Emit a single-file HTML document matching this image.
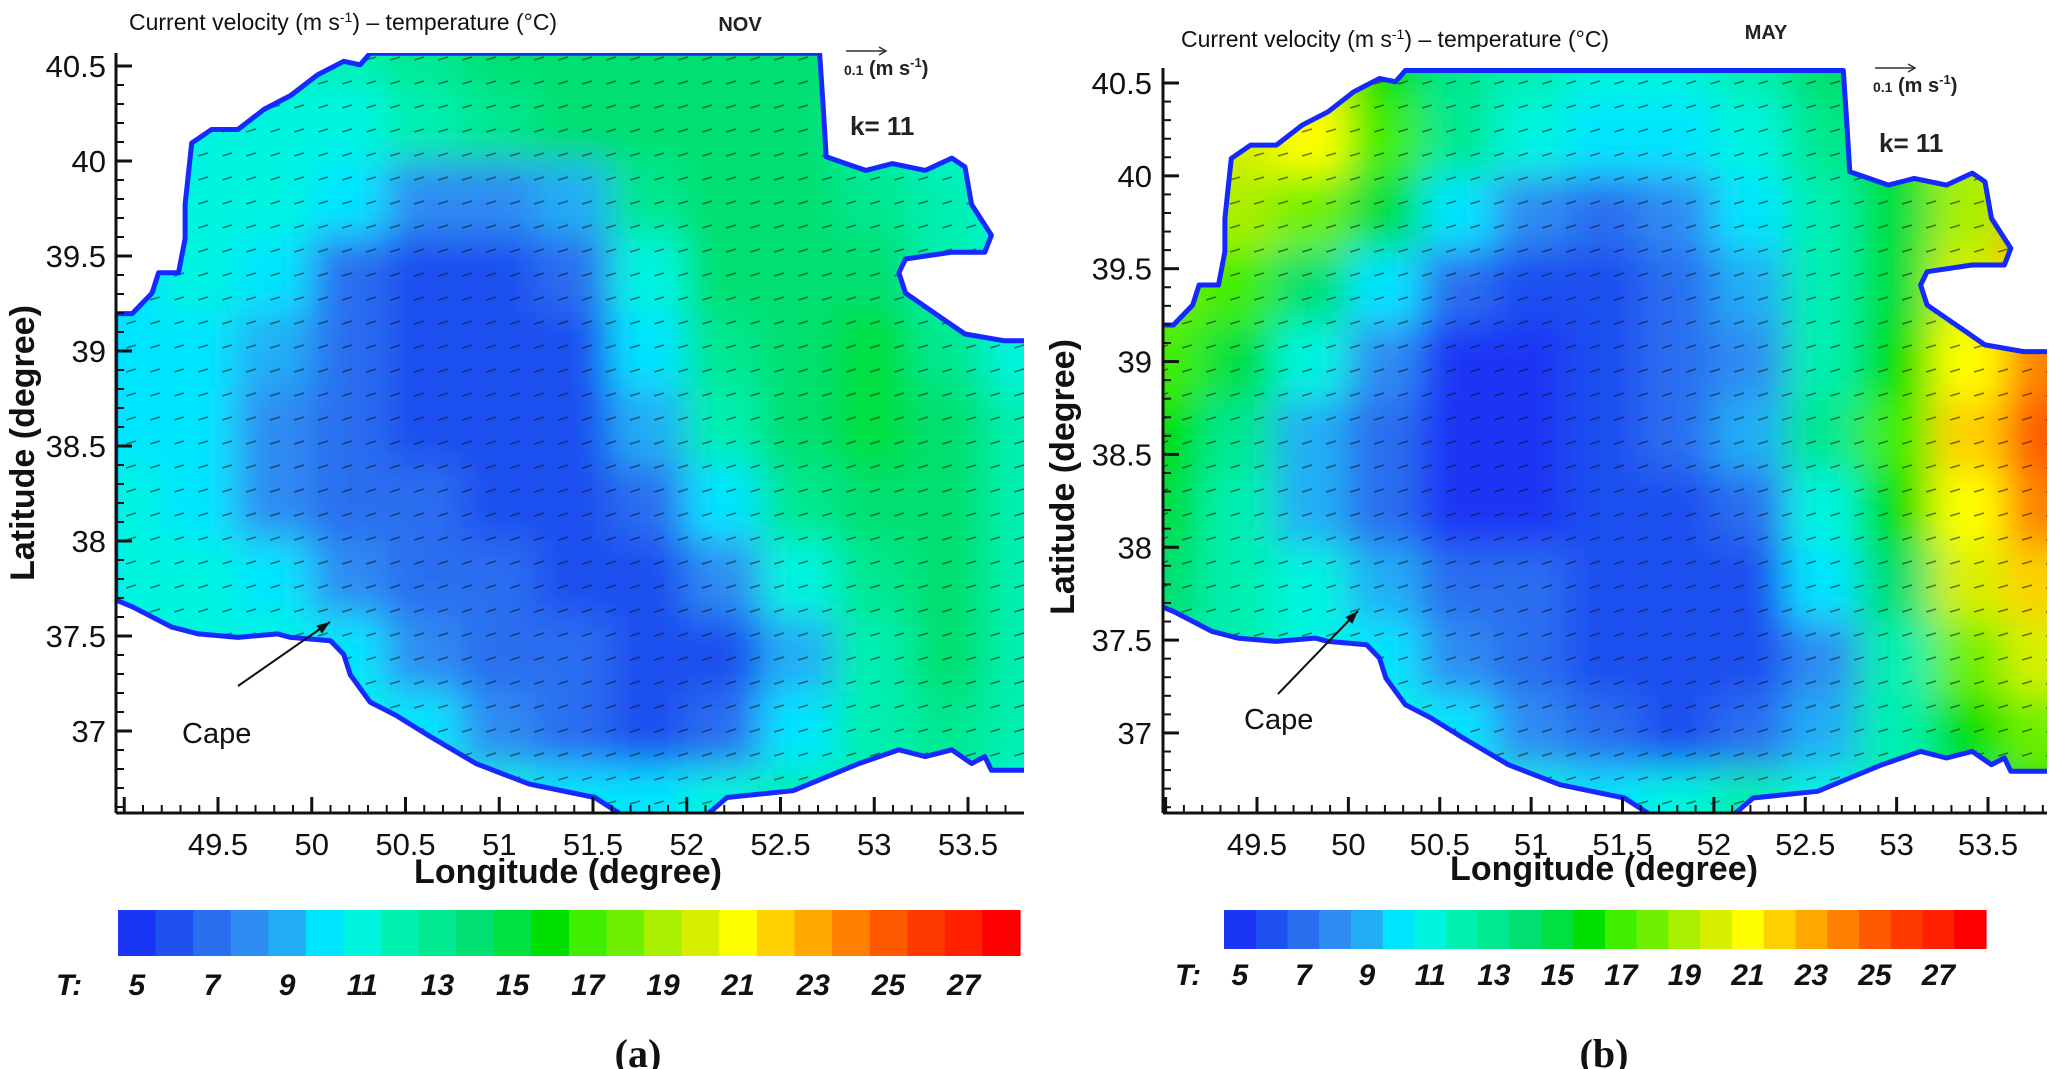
<!DOCTYPE html>
<html><head><meta charset="utf-8">
<style>
html,body{margin:0;padding:0;background:#fff;}
svg{display:block;}
text{font-family:"Liberation Sans",sans-serif;}
</style></head>
<body>
<svg id="fig" width="2072" height="1069" viewBox="0 0 2072 1069" xmlns="http://www.w3.org/2000/svg">
<defs>
<filter id="blurA" x="-10%" y="-10%" width="120%" height="120%"><feGaussianBlur stdDeviation="19"/></filter>
<pattern id="vec" width="24" height="24" patternUnits="userSpaceOnUse">
<line x1="6" y1="12" x2="16" y2="9" stroke="#111" stroke-width="1.6" opacity="0.55"/>
</pattern>
</defs>
<g id="root"></g>
</svg>
<script>
// ---- data ----
const lonCenters = [49.0,49.4,49.8,50.2,50.6,51.0,51.4,51.8,52.2,52.6,53.0,53.4,53.8];
const latCenters = [40.6,40.2,39.8,39.4,39.0,38.6,38.2,37.8,37.4,37.0,36.6];
const tempNov = [
[12,12,12,12,13,14,14,14,14,14,13,12,12],
[11,11,11,11,12,13,14,14,14,14,12,11,11],
[11,11,11,10,8,8,9,13,14,14,13,12,11],
[10,11,10,7,6,6,7,11,14,14,14,12,11],
[10,10,9,7,6,6,6,10,13,14,15,13,11],
[10,10,8,7,6,6,6,9,12,14,15,14,12],
[11,10,8,7,7,6,6,7,10,13,14,14,12],
[11,11,10,8,7,7,6,6,8,11,13,14,12],
[11,11,11,10,8,7,7,6,6,9,12,14,12],
[11,11,11,11,10,8,7,6,7,10,12,13,12],
[12,12,12,12,11,11,10,10,11,12,12,12,11]];
const tempMay = [
[20,20,20,16,13,12,11,11,12,14,16,18,18],
[20,20,21,17,13,11,10,10,11,13,16,19,22],
[19,19,18,15,10,8,7,8,10,12,15,19,23],
[18,17,14,10,7,6,6,7,9,12,15,20,23],
[17,15,11,8,5,5,6,7,8,12,16,21,24],
[16,13,9,7,5,5,6,7,9,13,17,22,25],
[15,12,9,7,5,5,6,6,7,11,16,21,24],
[14,12,11,9,7,7,6,6,6,10,14,20,22],
[13,12,11,10,8,7,6,6,6,8,12,18,20],
[12,12,11,11,10,8,7,6,7,9,12,16,18],
[12,12,11,11,11,11,10,11,12,11,12,14,16]];
const lonTicks = [49.5,50,50.5,51,51.5,52,52.5,53,53.5];
const latTicks = [40.5,40,39.5,39,38.5,38,37.5,37];
const cbLabels = [5,7,9,11,13,15,17,19,21,23,25,27];
const cbColors = ["#1a35f5","#1f50f0","#2a6ef0","#2f8cf2","#22aef5","#00e5ff","#00f5e0","#00f0b0","#00e890","#00e070","#00e040","#00e000","#40ee00","#70f000","#a8f000","#d8f000","#ffff00","#ffd000","#ffa800","#ff8000","#ff5a00","#ff3a00","#ff2000","#ff0000"];
// coastline traced in reference-pixel space of panel (a), converted to lon/lat
const coastPx = [[175,460],[200,460],[230,430],[240,400],[270,400],[280,350],[280,300],[290,210],[320,190],[360,190],[400,160],[440,140],[480,110],[520,90],[545,95],[560,78],[1240,78],[1245,150],[1250,230],[1280,240],[1310,250],[1350,240],[1400,250],[1440,232],[1460,245],[1470,300],[1500,345],[1490,370],[1440,370],[1370,380],[1360,400],[1370,430],[1430,470],[1460,490],[1520,500],[1560,500],[1560,1130],[1500,1130],[1490,1110],[1470,1120],[1440,1100],[1400,1110],[1360,1100],[1300,1120],[1250,1140],[1200,1160],[1100,1170],[1070,1195],[940,1195],[900,1170],[800,1150],[720,1120],[650,1080],[600,1050],[560,1030],[530,990],[520,960],[500,940],[440,935],[420,930],[360,935],[300,930],[260,920],[200,890],[175,880]];
const coast = coastPx.map(p=>[49.5+(p[0]/1.513-218)/187.5, 40.5-(p[1]/1.467-66)/190]);

const NS="http://www.w3.org/2000/svg";
const root=document.getElementById('root');
function el(tag,attrs,parent){const e=document.createElementNS(NS,tag);for(const k in attrs)e.setAttribute(k,attrs[k]);(parent||root).appendChild(e);return e;}
function colorFor(t){let i=Math.round(t)-5;i=Math.max(0,Math.min(cbColors.length-1,i));return cbColors[i];}

const panels=[
 {id:'a',temps:tempNov,left:116,right:1024,top:53,bottom:813,lon0:49.5,x0:218,kx:187.5,lat0:40.5,y0:66,ky:190,
  title:[129,22],month:'NOV',monthX:740,monthY:24,vecX:846,vecY:51,kY:125,cb:[118,1020,910,956],cbLab:985,tX:56,
  cape:[182,733],capeArrow:[238,686,330,622],lbl:[638,1053],lonTitle:[568,883],latTitle:[22,443],ylabR:106},
 {id:'b',temps:tempMay,left:1163,right:2047,top:68,bottom:813,lon0:49.5,x0:1257,kx:182.75,lat0:40.5,y0:83,ky:185.7,
  title:[1181,39],month:'MAY',monthX:1766,monthY:32,vecX:1875,vecY:68,kY:142,cb:[1224,1986,910,949],cbLab:975,tX:1175,
  cape:[1244,719],capeArrow:[1278,694,1358,611],lbl:[1604,1053],lonTitle:[1604,880],latTitle:[1062,477],ylabR:1152}
];

panels.forEach(P=>{
 const X=lon=>P.x0+(lon-P.lon0)*P.kx;
 const Y=lat=>P.y0+(P.lat0-lat)*P.ky;
 const g=el('g',{});
 
 
 const cp=el('clipPath',{id:'clip'+P.id},g);
 const polyPts=coast.map(c=>X(c[0]).toFixed(1)+','+Math.max(P.top,Y(c[1])).toFixed(1)).join(' ');
 el('polygon',{points:polyPts},cp);
 const cp2=el('clipPath',{id:'box'+P.id},g);
 el('rect',{x:P.left,y:P.top,width:P.right-P.left,height:P.bottom-P.top},cp2);
 const outer=el('g',{'clip-path':'url(#box'+P.id+')'},g);
 const sea=el('g',{'clip-path':'url(#clip'+P.id+')'},outer);
 
 
 el('rect',{x:P.left,y:P.top,width:P.right-P.left,height:P.bottom-P.top,fill:colorFor(11)},sea);
 const field=el('g',{filter:'url(#blurA)'},sea);
 P.temps.forEach((row,ri)=>row.forEach((t,ci)=>{
   const lon=lonCenters[ci],lat=latCenters[ri];
   const x1=X(lon-0.2),x2=X(lon+0.2),y1=Y(lat+0.2),y2=Y(lat-0.2);
   const r=el('rect',{x:x1-1,y:y1-1,width:x2-x1+2,height:y2-y1+2,fill:colorFor(t)},field);
   
   
 }));
 el('rect',{x:P.left,y:P.top,width:P.right-P.left,height:P.bottom-P.top,fill:'url(#vec)'},sea);
 const cl=el('polygon',{points:polyPts,fill:'none',stroke:'#1428ff','stroke-width':5,'stroke-linejoin':'round'},outer);
 
 
 const ax=el('g',{stroke:'#111','stroke-width':3},g);
 
 
 el('line',{x1:P.left,y1:P.top,x2:P.left,y2:P.bottom},ax);
 el('line',{x1:P.left,y1:P.bottom,x2:P.right,y2:P.bottom},ax);
 for(let v=49.0;v<=53.85;v+=0.1){const x=X(v);if(x<P.left+2||x>P.right)continue;
   const major=Math.abs(v*2-Math.round(v*2))<0.01;
   el('line',{x1:x,y1:P.bottom,x2:x,y2:P.bottom-(major?16:8),'stroke-width':major?3:2},ax);}
 for(let v=36.6;v<=40.65;v+=0.1){const y=Y(v);if(y<P.top||y>P.bottom-2)continue;
   const major=Math.abs(v*2-Math.round(v*2))<0.01;
   el('line',{x1:P.left,y1:y,x2:P.left+(major?16:8),y2:y,'stroke-width':major?3:2},ax);}
 lonTicks.forEach(v=>{const t=el('text',{x:X(v),y:P.bottom+42,'font-size':31,'text-anchor':'middle',fill:'#111'},g);t.textContent=v;
   });
 latTicks.forEach(v=>{const t=el('text',{x:P.ylabR,y:Y(v)+11,'font-size':31,'text-anchor':'end',fill:'#111'},g);t.textContent=v;
   });
 let t=el('text',{x:P.lonTitle[0],y:P.lonTitle[1],'font-size':34,'font-weight':'bold','text-anchor':'middle',fill:'#111'},g);
 t.textContent='Longitude (degree)';
 t=el('text',{x:0,y:0,'font-size':34,'font-weight':'bold','text-anchor':'middle',fill:'#111',transform:`translate(${P.latTitle[0]+12},${P.latTitle[1]}) rotate(-90)`},g);
 t.textContent='Latitude (degree)';
 t=el('text',{x:P.title[0],y:P.title[1]+8,'font-size':23,fill:'#111'},g);
 t.innerHTML='Current velocity (m s<tspan dy="-8" font-size="14">-1</tspan><tspan dy="8">) – temperature (°C)</tspan>';
 
 t=el('text',{x:P.monthX,y:P.monthY+7,'font-size':20,'font-weight':'bold','text-anchor':'middle',fill:'#222'},g);
 t.textContent=P.month;
 const vl=el('g',{},g);
 el('line',{x1:P.vecX,y1:P.vecY,x2:P.vecX+40,y2:P.vecY,stroke:'#333','stroke-width':1.5},vl);
 el('polyline',{points:`${P.vecX+33},${P.vecY-4} ${P.vecX+40},${P.vecY} ${P.vecX+33},${P.vecY+4}`,fill:'none',stroke:'#333','stroke-width':1.5},vl);
 t=el('text',{x:P.vecX-2,y:P.vecY+24,'font-size':20,'font-weight':'bold',fill:'#222'},vl);
 t.innerHTML='<tspan font-size="14">0.1</tspan> (m s<tspan dy="-8" font-size="13">-1</tspan><tspan dy="8">)</tspan>';
 t=el('text',{x:P.vecX+4,y:P.kY+10,'font-size':26,'font-weight':'bold',fill:'#222'},g);
 t.textContent='k= 11';
 t=el('text',{x:P.cape[0],y:P.cape[1]+10,'font-size':29,fill:'#111'},g);
 t.textContent='Cape';
 const a=P.capeArrow;
 el('line',{x1:a[0],y1:a[1],x2:a[2],y2:a[3],stroke:'#111','stroke-width':2},g);
 const ang=Math.atan2(a[3]-a[1],a[2]-a[0]);
 const hx=a[2],hy=a[3];
 el('polygon',{points:`${hx},${hy} ${hx-14*Math.cos(ang-0.35)},${hy-14*Math.sin(ang-0.35)} ${hx-14*Math.cos(ang+0.35)},${hy-14*Math.sin(ang+0.35)}`,fill:'#111'},g);
 const cb=el('g',{},g);
 const [c0,c1,cy0,cy1]=P.cb;const bw=(c1-c0)/cbColors.length;
 cbColors.forEach((c,i)=>{const r=el('rect',{x:c0+i*bw,y:cy0,width:bw+0.6,height:cy1-cy0,fill:c},cb);
   });
 t=el('text',{x:P.tX,y:P.cbLab+10,'font-size':30,'font-weight':'bold','font-style':'italic',fill:'#111'},g);t.textContent='T:';
 
 cbLabels.forEach(v=>{const tt=el('text',{x:c0+(v-5+0.5)*bw,y:P.cbLab+10,'font-size':30,'font-weight':'bold','font-style':'italic','text-anchor':'middle',fill:'#111'},g);
   tt.textContent=v;});
 t=el('text',{x:P.lbl[0],y:P.lbl[1]+14,'font-size':40,'font-weight':'bold','text-anchor':'middle',fill:'#111',style:'font-family:"Liberation Serif",serif'},g);
 t.textContent='('+P.id+')';
});
</script>
</body></html>
